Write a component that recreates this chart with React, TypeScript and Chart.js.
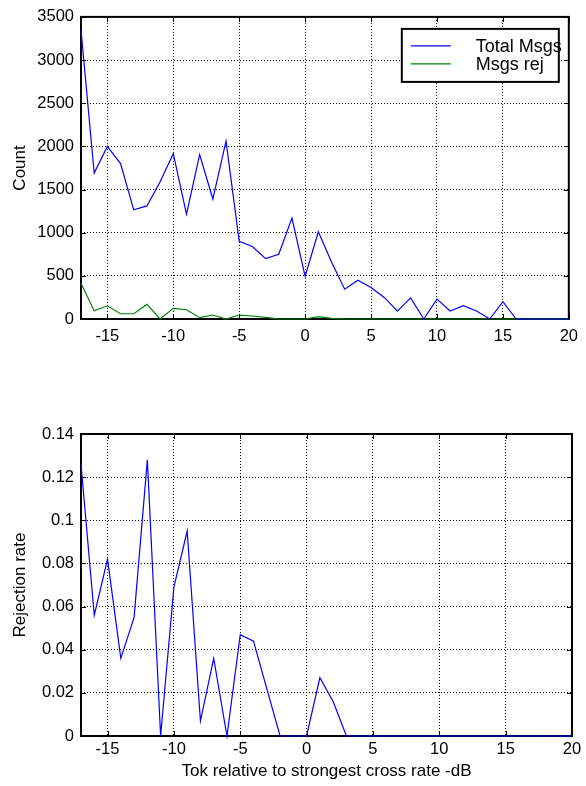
import React, { useEffect, useRef } from "react";
import { Chart, registerables } from "chart.js";

Chart.register(...registerables);

const xValues = [-17, -16, -15, -14, -13, -12, -11, -10, -9, -8, -7, -6, -5, -4, -3, -2, -1, 0, 1, 2, 3, 4, 5, 6, 7, 8, 9, 10, 11, 12, 13, 14, 15, 16, 17, 18, 19, 20];
const totalMsgs = [3350, 1690, 2000, 1800, 1265, 1310, 1590, 1915, 1215, 1905, 1390, 2060, 900, 840, 700, 750, 1170, 495, 1010, 660, 345, 450, 365, 250, 92, 245, 0, 230, 92, 155, 92, 0, 200, 0, 0, 0, 0, 0];
const msgsRej = [415, 96, 153, 61, 61, 169, 0, 123, 107, 15, 46, 0, 46, 35, 18, 0, 0, 0, 27, 8, 0, 0, 0, 0, 0, 0, 0, 0, 0, 0, 0, 0, 0, 0, 0, 0, 0, 0];
const rejectionRate = [0.126, 0.056, 0.082, 0.036, 0.055, 0.128, 0, 0.069, 0.095, 0.007, 0.036, 0, 0.047, 0.044, 0.022, 0, 0, 0, 0.027, 0.016, 0, 0, 0, 0, 0, 0, 0, 0, 0, 0, 0, 0, 0, 0, 0, 0, 0, 0];

const xTicks = [-15, -10, -5, 0, 5, 10, 15, 20];
const countTicks = [0, 500, 1000, 1500, 2000, 2500, 3000, 3500];
const rateTicks = [0, 0.02, 0.04, 0.06, 0.08, 0.1, 0.12, 0.14];

const FONT = "'Liberation Sans', Arial, sans-serif";
const W = 586;
const H = 393;

const framePlugin = {
  id: "frame",
  beforeDatasetsDraw(chart: any) {
    const { ctx, chartArea: a, scales } = chart;
    ctx.save();
    ctx.strokeStyle = "#000";
    ctx.lineWidth = 1;
    ctx.setLineDash([]);
    const tl = 5;
    ctx.beginPath();
    scales.x.ticks.forEach((t: any) => {
      const px = Math.round(scales.x.getPixelForValue(t.value)) + 0.5;
      ctx.moveTo(px, a.bottom);
      ctx.lineTo(px, a.bottom - tl);
      ctx.moveTo(px, a.top);
      ctx.lineTo(px, a.top + tl);
    });
    scales.y.ticks.forEach((t: any) => {
      const py = Math.round(scales.y.getPixelForValue(t.value)) + 0.5;
      ctx.moveTo(a.left, py);
      ctx.lineTo(a.left + tl, py);
      ctx.moveTo(a.right, py);
      ctx.lineTo(a.right - tl, py);
    });
    ctx.stroke();
    ctx.lineWidth = 2;
    ctx.strokeRect(a.left, a.top, a.right - a.left, a.bottom - a.top);
    ctx.restore();
  },
};

const legendPlugin = {
  id: "boxLegend",
  afterDatasetsDraw(chart: any) {
    const { ctx, chartArea: a } = chart;
    const bw = 157;
    const bh = 53;
    const bx = a.right - 10 - bw;
    const by = a.top + 12;
    ctx.save();
    ctx.fillStyle = "#fff";
    ctx.fillRect(bx, by, bw, bh);
    ctx.strokeStyle = "#000";
    ctx.lineWidth = 2;
    ctx.strokeRect(bx, by, bw, bh);
    ctx.font = `18px ${FONT}`;
    ctx.textBaseline = "middle";
    ctx.textAlign = "left";
    chart.data.datasets.forEach((ds: any, i: number) => {
      const y = by + 17 + i * 18;
      ctx.strokeStyle = ds.borderColor;
      ctx.lineWidth = 1.2;
      ctx.beginPath();
      ctx.moveTo(bx + 9, y);
      ctx.lineTo(bx + 49, y);
      ctx.stroke();
      ctx.fillStyle = "#000";
      ctx.fillText(ds.label, bx + 74, y + 1);
    });
    ctx.restore();
  },
};

function makeOptions(opts: {
  yMin: number;
  yMax: number;
  yTicks: number[];
  yTitle: string;
  padTop: number;
  xHeight: number;
  xPad: number;
  xTitle?: string;
}) {
  return {
    responsive: false,
    maintainAspectRatio: false,
    animation: false as const,
    devicePixelRatio: 1,
    layout: { padding: { left: 0, top: opts.padTop, right: 14, bottom: 0 } },
    plugins: { legend: { display: false }, tooltip: { enabled: false }, title: { display: false } },
    elements: { point: { radius: 0 }, line: { tension: 0 } },
    scales: {
      x: {
        type: "linear" as const,
        min: -17,
        max: 20,
        afterBuildTicks: (scale: any) => {
          scale.ticks = xTicks.map((v) => ({ value: v }));
        },
        afterFit: (scale: any) => {
          scale.height = opts.xHeight;
        },
        ticks: {
          autoSkip: false,
          maxRotation: 0,
          padding: opts.xPad,
          color: "#000",
          font: { family: FONT, size: 16.5 },
          callback: (v: any) => String(v),
        },
        grid: { color: "#000", lineWidth: 1, drawTicks: false },
        border: { display: false, dash: [1, 2] },
        title: opts.xTitle
          ? { display: true, text: opts.xTitle, color: "#000", font: { family: FONT, size: 17 }, padding: { top: 4 } }
          : { display: false },
      },
      y: {
        type: "linear" as const,
        min: opts.yMin,
        max: opts.yMax,
        afterBuildTicks: (scale: any) => {
          scale.ticks = opts.yTicks.map((v) => ({ value: v }));
        },
        afterFit: (scale: any) => {
          scale.width = 81;
        },
        ticks: {
          padding: 7,
          color: "#000",
          font: { family: FONT, size: 16.5 },
          callback: (v: any) => String(v),
        },
        grid: { color: "#000", lineWidth: 1, drawTicks: false },
        border: { display: false, dash: [1, 2] },
        title: { display: true, text: opts.yTitle, color: "#000", font: { family: FONT, size: 17 }, padding: { top: 10, bottom: 0 } },
      },
    },
  };
}

export default function App() {
  const topRef = useRef<HTMLCanvasElement | null>(null);
  const botRef = useRef<HTMLCanvasElement | null>(null);

  useEffect(() => {
    const top = new Chart(topRef.current as HTMLCanvasElement, {
      type: "line",
      data: {
        datasets: [
          {
            label: "Total Msgs",
            data: xValues.map((x, i) => ({ x, y: totalMsgs[i] })),
            borderColor: "#0000ff",
            borderWidth: 1.2,
            fill: false,
            clip: 4,
          },
          {
            label: "Msgs rej",
            data: xValues.map((x, i) => ({ x, y: msgsRej[i] })),
            borderColor: "#008000",
            borderWidth: 1.2,
            fill: false,
            clip: 4,
          },
        ],
      },
      options: makeOptions({ yMin: 0, yMax: 3500, yTicks: countTicks, yTitle: "Count", padTop: 15, xHeight: 74, xPad: 8 }) as any,
      plugins: [framePlugin, legendPlugin],
    });
    const bot = new Chart(botRef.current as HTMLCanvasElement, {
      type: "line",
      data: {
        datasets: [
          {
            label: "Rejection rate",
            data: xValues.map((x, i) => ({ x, y: rejectionRate[i] })),
            borderColor: "#0000ff",
            borderWidth: 1.2,
            fill: false,
            clip: 4,
          },
        ],
      },
      options: makeOptions({
        yMin: 0,
        yMax: 0.14,
        yTicks: rateTicks,
        yTitle: "Rejection rate",
        padTop: 41,
        xHeight: 50,
        xPad: 4,
        xTitle: "Tok relative to strongest cross rate -dB",
      }) as any,
      plugins: [framePlugin],
    });
    return () => {
      top.destroy();
      bot.destroy();
    };
  }, []);

  return (
    <div style={{ position: "absolute", left: 0, top: 0, width: W, height: 786, background: "#fff" }}>
      <canvas ref={topRef} width={W} height={H} style={{ position: "absolute", left: 0, top: 0, width: W, height: H, display: "block" }} />
      <canvas ref={botRef} width={W} height={H} style={{ position: "absolute", left: 0, top: H, width: W, height: H, display: "block" }} />
    </div>
  );
}
